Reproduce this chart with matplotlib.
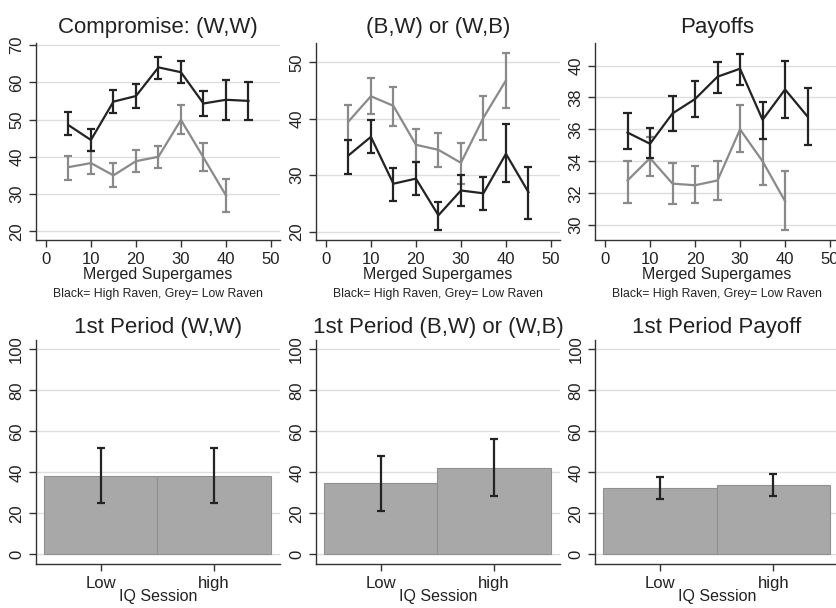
import matplotlib
matplotlib.use("Agg")
import matplotlib.pyplot as plt

plt.rcParams['font.family'] = ['Liberation Sans', 'DejaVu Sans']

# merged supergames (x axis of top row)
games_high = [5, 10, 15, 20, 25, 30, 35, 40, 45]
games_low = [5, 10, 15, 20, 25, 30, 35, 40]

# Compromise: (W,W)
ww_high = [48.5, 44.5, 54.8, 56.3, 64.0, 62.7, 54.3, 55.3, 55.0]
ww_high_lo = [45.8, 41.5, 51.8, 53.0, 61.0, 59.8, 51.0, 50.0, 49.8]
ww_high_hi = [52.1, 47.5, 57.8, 59.5, 66.7, 65.7, 57.7, 60.7, 60.0]
ww_low = [37.2, 38.3, 35.0, 38.8, 40.0, 49.9, 39.8, 29.6]
ww_low_lo = [33.8, 35.3, 31.8, 36.0, 37.0, 46.0, 36.2, 25.2]
ww_low_hi = [40.2, 41.5, 38.3, 41.7, 43.0, 54.0, 43.7, 34.0]

# (B,W) or (W,B)
bw_high = [33.5, 36.8, 28.5, 29.4, 22.9, 27.3, 26.8, 33.8, 27.0]
bw_high_lo = [30.3, 34.0, 25.5, 26.5, 20.3, 24.5, 23.8, 28.8, 22.3]
bw_high_hi = [36.2, 39.8, 31.2, 32.4, 25.3, 30.0, 29.7, 39.0, 31.4]
bw_low = [39.5, 44.0, 42.3, 35.4, 34.5, 32.2, 40.2, 46.8]
bw_low_lo = [36.2, 40.9, 38.8, 32.3, 31.5, 28.4, 36.3, 41.9]
bw_low_hi = [42.5, 47.2, 45.6, 38.2, 37.4, 35.8, 44.0, 51.6]

# Payoffs
pay_high = [35.8, 35.1, 37.0, 37.9, 39.3, 39.8, 36.6, 38.5, 36.8]
pay_high_lo = [34.8, 34.2, 35.9, 36.8, 38.3, 38.8, 35.4, 36.7, 35.0]
pay_high_hi = [37.0, 36.1, 38.1, 39.0, 40.2, 40.7, 37.7, 40.3, 38.6]
pay_low = [32.8, 34.2, 32.6, 32.5, 32.8, 36.0, 34.0, 31.5]
pay_low_lo = [31.4, 33.1, 31.3, 31.4, 31.6, 34.6, 32.5, 29.7]
pay_low_hi = [34.0, 35.5, 33.9, 33.7, 34.0, 37.5, 35.4, 33.4]

# first period bars
sessions = ['Low', 'high']
p1_ww = [38.4, 38.4]
p1_ww_lo = [24.9, 24.9]
p1_ww_hi = [52.1, 52.1]
p1_bw = [34.6, 42.3]
p1_bw_lo = [21.1, 28.4]
p1_bw_hi = [48.0, 56.1]
p1_pay = [32.2, 34.0]
p1_pay_lo = [26.8, 28.6]
p1_pay_hi = [37.6, 39.2]

BLACK = '#232323'
GREY = '#8a8a8a'
GRID = '#dedede'

fig = plt.figure(figsize=(8.37, 6.08), dpi=100)

lefts = [0.043, 0.3775, 0.711]
w = 0.2915


def style(ax):
    for s in ['top', 'right']:
        ax.spines[s].set_visible(False)
    for s in ['left', 'bottom']:
        ax.spines[s].set_color('#333333')
        ax.spines[s].set_linewidth(1.0)
    ax.yaxis.grid(True, color=GRID, linewidth=1.0)
    ax.set_axisbelow(True)
    ax.tick_params(direction='out', length=5, width=1, color='#333333',
                   labelsize=12, labelcolor='#222222')
    for lab in ax.get_yticklabels():
        lab.set_rotation(90)
        lab.set_va('center')


def draw_err(ax, x, lo, hi, color):
    ax.vlines(x, lo, hi, color=color, linewidth=1.6)
    ax.hlines(lo, [v - 0.9 for v in x], [v + 0.9 for v in x], color=color, linewidth=1.6)
    ax.hlines(hi, [v - 0.9 for v in x], [v + 0.9 for v in x], color=color, linewidth=1.6)


top_panels = [
    ("Compromise: (W,W)", ww_high, ww_high_lo, ww_high_hi, ww_low, ww_low_lo, ww_low_hi,
     (17.6, 70.5), [20, 30, 40, 50, 60, 70]),
    ("(B,W) or (W,B)", bw_high, bw_high_lo, bw_high_hi, bw_low, bw_low_lo, bw_low_hi,
     (18.5, 53.4), [20, 30, 40, 50]),
    ("Payoffs", pay_high, pay_high_lo, pay_high_hi, pay_low, pay_low_lo, pay_low_hi,
     (29.06, 41.4), [30, 32, 34, 36, 38, 40]),
]

for i, (title, hi_v, hi_lo, hi_hi, lo_v, lo_lo, lo_hi, ylim, yt) in enumerate(top_panels):
    ax = fig.add_axes([lefts[i], 0.605, w, 0.324])
    ax.plot(games_low, lo_v, color=GREY, linewidth=1.6)
    draw_err(ax, games_low, lo_lo, lo_hi, GREY)
    ax.plot(games_high, hi_v, color=BLACK, linewidth=1.6)
    draw_err(ax, games_high, hi_lo, hi_hi, BLACK)
    ax.set_xlim(-2.2, 52)
    ax.set_ylim(*ylim)
    ax.set_xticks([0, 10, 20, 30, 40, 50])
    ax.set_yticks(yt)
    style(ax)
    ax.set_title(title, fontsize=16, color='#222222', pad=7)
    ax.set_xlabel("Merged Supergames", fontsize=11.5, color='#222222', labelpad=0)
    ax.text(0.5, -0.275, "Black= High Raven, Grey= Low Raven", transform=ax.transAxes,
            ha='center', va='center', fontsize=8.8, color='#222222')

bottom_panels = [
    ("1st Period (W,W)", p1_ww, p1_ww_lo, p1_ww_hi),
    ("1st Period (B,W) or (W,B)", p1_bw, p1_bw_lo, p1_bw_hi),
    ("1st Period Payoff", p1_pay, p1_pay_lo, p1_pay_hi),
]

for i, (title, vals, lo, hi) in enumerate(bottom_panels):
    ax = fig.add_axes([lefts[i], 0.0724, w, 0.368])
    pos = list(range(len(sessions)))
    ax.bar(pos, vals, width=1.0, color='#a8a8a8', edgecolor='#909090', linewidth=0.8)
    err = [[v - l for v, l in zip(vals, lo)], [h - v for v, h in zip(vals, hi)]]
    ax.errorbar(pos, vals, yerr=err, fmt='none', ecolor=BLACK, elinewidth=1.6,
                capsize=3, capthick=1.6)
    ax.set_xlim(-0.57, 1.58)
    ax.set_ylim(-4.7, 104.5)
    ax.set_xticks(pos)
    ax.set_xticklabels(sessions)
    ax.set_yticks([0, 20, 40, 60, 80, 100])
    style(ax)
    ax.set_title(title, fontsize=16, color='#222222', pad=5)
    ax.set_xlabel("IQ Session", fontsize=11.5, color='#222222', labelpad=-1)

fig.savefig("out.png", dpi=100)
